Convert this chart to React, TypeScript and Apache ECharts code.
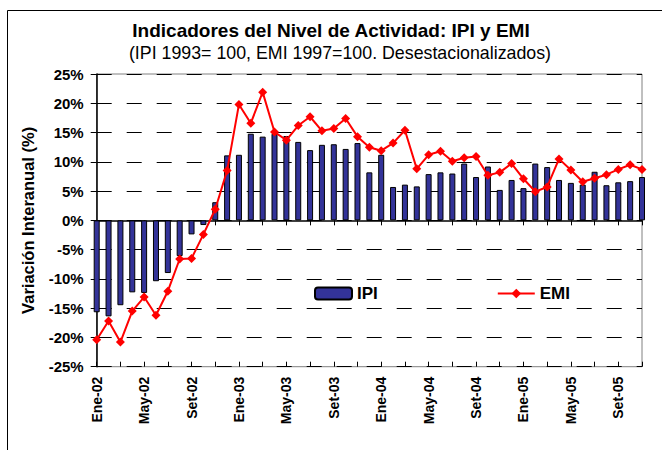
import React, { useEffect, useRef } from "react";
import * as echarts from "echarts";

const monthNames = ["Ene", "Feb", "Mar", "Abr", "May", "Jun", "Jul", "Ago", "Set", "Oct", "Nov", "Dic"];
const years = ["02", "03", "04", "05"];
const categories: string[] = [];
years.forEach((y) => monthNames.forEach((m) => categories.push(`${m}-${y}`)));
categories.splice(47);

const ipi = [-15.7, -16.4, -14.5, -12.3, -12.4, -10.4, -9.0, -6.1, -2.4, -0.8, 3.1, 11.1, 11.2, 14.8, 14.3, 14.8, 14.4, 13.4, 12.0, 12.9, 13.0, 12.2, 13.2, 8.2, 11.2, 5.7, 6.1, 5.8, 7.9, 8.2, 8.0, 9.7, 7.4, 9.2, 5.2, 6.9, 5.5, 9.7, 9.1, 6.9, 6.4, 6.1, 8.3, 6.0, 6.5, 6.7, 7.4];
const emi = [-20.4, -17.2, -20.8, -15.5, -13.1, -16.2, -12.1, -6.6, -6.5, -2.4, 1.9, 8.5, 19.8, 16.6, 21.9, 15.1, 13.7, 16.2, 17.7, 15.3, 15.7, 17.4, 14.3, 12.5, 11.9, 13.2, 15.4, 8.8, 11.2, 11.8, 10.1, 10.7, 10.9, 7.7, 8.2, 9.7, 7.1, 4.9, 5.7, 10.5, 8.6, 6.6, 7.2, 7.8, 8.7, 9.5, 8.7];

const FONT = "Arial, 'Liberation Sans', sans-serif";

export default function App() {
  const ref = useRef<HTMLDivElement>(null);
  useEffect(() => {
    if (!ref.current) return;
    const chart = echarts.init(ref.current, null, { renderer: "svg" });
    chart.setOption({
      animation: false,
      backgroundColor: "#ffffff",
      title: [
        {
          text: "Indicadores del Nivel de Actividad: IPI y EMI",
          left: "center",
          top: 16,
          textStyle: { fontFamily: FONT, fontSize: 19, fontWeight: "bold", color: "#000" },
        },
        {
          text: "(IPI 1993= 100, EMI 1997=100. Desestacionalizados)",
          left: 335,
          textAlign: "center",
          top: 39,
          textStyle: { fontFamily: FONT, fontSize: 17.8, fontWeight: "normal", color: "#000" },
        },
      ],
      legend: {
        left: 309,
        top: 280,
        itemWidth: 37,
        itemHeight: 12,
        itemGap: 119,
        textStyle: { fontFamily: FONT, fontSize: 17, fontWeight: "bold", color: "#000" },
        data: ["IPI", "EMI"],
      },
      grid: {
        left: 96.7,
        right: 20,
        top: 74,
        bottom: 83.3,
        show: true,
        borderColor: "#808080",
        borderWidth: 1,
        containLabel: false,
      },
      xAxis: [
        {
          type: "category",
          data: categories,
          boundaryGap: false,
          position: "bottom",
          axisLine: { show: false, onZero: false },
          axisTick: { show: false },
          splitLine: { show: false },
          axisLabel: {
            interval: 3,
            rotate: 90,
            margin: 10,
            fontFamily: FONT,
            fontSize: 14,
            fontWeight: "bold",
            color: "#000",
          },
        },
        {
          type: "category",
          data: categories,
          boundaryGap: false,
          position: "bottom",
          axisLine: { show: true, onZero: true, lineStyle: { color: "#000", width: 1.5 } },
          axisTick: { show: true, interval: 1, length: 5, lineStyle: { color: "#000" } },
          axisLabel: { show: false },
          splitLine: { show: false },
        },
        {
          type: "category",
          data: categories,
          boundaryGap: false,
          position: "bottom",
          axisLine: { show: false, onZero: true },
          axisTick: { show: true, inside: true, interval: 1, length: 5, lineStyle: { color: "#000" } },
          axisLabel: { show: false },
          splitLine: { show: false },
        },
      ],
      yAxis: {
        type: "value",
        min: -25,
        max: 25,
        interval: 5,
        name: "Variación Interanual (%)",
        nameLocation: "middle",
        nameGap: 60,
        nameTextStyle: { fontFamily: FONT, fontSize: 16.5, fontWeight: "bold", color: "#000" },
        axisLine: { show: true, lineStyle: { color: "#000", width: 1.5 } },
        axisTick: { show: true, length: 6, lineStyle: { color: "#000" } },
        axisLabel: {
          formatter: (v: number) => `${v}%`,
          margin: 13,
          fontFamily: FONT,
          fontSize: 15,
          fontWeight: "bold",
          color: "#000",
        },
        splitLine: { show: true, lineStyle: { color: "#000", type: [15, 15], width: 1 } },
      },
      series: [
        {
          name: "IPI",
          type: "bar",
          xAxisIndex: 0,
          data: ipi,
          barWidth: 6,
          itemStyle: { color: "#333399", borderColor: "#000", borderWidth: 1 },
        },
        {
          name: "EMI",
          type: "line",
          xAxisIndex: 0,
          data: emi,
          clip: false,
          showAllSymbol: true,
          symbol: "diamond",
          symbolSize: 9,
          lineStyle: { color: "#ff0000", width: 2 },
          itemStyle: { color: "#ff0000" },
        },
      ],
      graphic: [
        {
          type: "rect",
          shape: { x: 7.5, y: 10.5, width: 700, height: 500 },
          style: { fill: "none", stroke: "#000", lineWidth: 1 },
          silent: true,
        },
      ],
    });
    return () => chart.dispose();
  }, []);
  return (
    <div
      ref={ref}
      style={{ position: "absolute", left: 0, top: 0, width: 662, height: 450 }}
    />
  );
}
